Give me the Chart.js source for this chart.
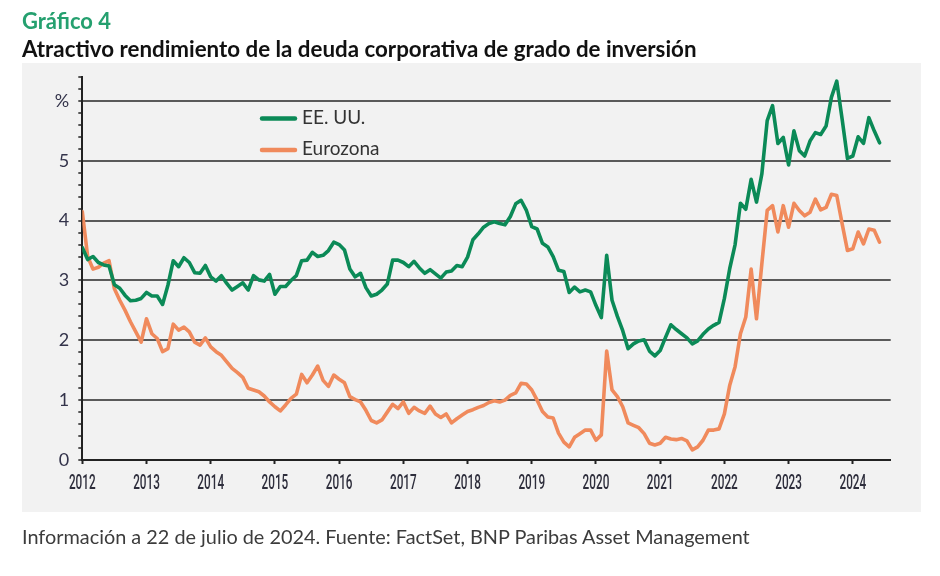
<!DOCTYPE html>
<html>
<head>
<meta charset="utf-8">
<script src="https://cdn.jsdelivr.net/npm/chart.js@4.4.1/dist/chart.umd.min.js"></script>
<style>
  html, body { margin: 0; padding: 0; background: #ffffff; }
  #wrap { position: relative; width: 940px; height: 576px; overflow: hidden; }
  #panel { position: absolute; left: 22px; top: 63px; width: 899px; height: 449px; background: #f2f2f2; }
  #c { position: absolute; left: 0; top: 0; }
  .txt { position: absolute; left: 22px; white-space: nowrap; font-family: Lato, "Open Sans", sans-serif; line-height: 1; }
  #kicker { top: 10px; font-size: 21px; font-weight: 700; color: #25a06f; }
  #title { top: 38px; font-size: 19px; font-weight: 700; color: #111; }
  #note { top: 527px; font-size: 18px; font-weight: 400; color: #3c3c3c; }
</style>
</head>
<body>
<div id="wrap">
  <div id="panel"></div>
  <canvas id="c" width="940" height="576"></canvas>
  <div class="txt" id="kicker" data-w="89">Gráfico 4</div>
  <div class="txt" id="title" data-w="675">Atractivo rendimiento de la deuda corporativa de grado de inversión</div>
  <div class="txt" id="note" data-w="728">Información a 22 de julio de 2024. Fuente: FactSet, BNP Paribas Asset Management</div>
</div>
<script>
// ---- Data (monthly, starting January 2012) ----
const startYear = 2012;
const seriesNames = ['EE. UU.', 'Eurozona'];
const us = [
  3.55, 3.35, 3.40, 3.30, 3.26, 3.24, 2.93, 2.87, 2.75, 2.66, 2.67, 2.70,
  2.80, 2.74, 2.74, 2.60, 2.92, 3.33, 3.23, 3.38, 3.30, 3.13, 3.12, 3.25,
  3.06, 2.99, 3.08, 2.95, 2.84, 2.90, 2.96, 2.84, 3.08, 3.01, 2.99, 3.10,
  2.77, 2.90, 2.90, 3.00, 3.08, 3.33, 3.34, 3.47, 3.40, 3.42, 3.50, 3.64,
  3.60, 3.51, 3.19, 3.06, 3.12, 2.88, 2.74, 2.77, 2.84, 2.94, 3.34, 3.34,
  3.30, 3.23, 3.32, 3.21, 3.12, 3.18, 3.11, 3.04, 3.14, 3.16, 3.25, 3.23,
  3.39, 3.68, 3.78, 3.89, 3.95, 3.98, 3.95, 3.93, 4.07, 4.28, 4.34, 4.17,
  3.90, 3.86, 3.62, 3.56, 3.40, 3.17, 3.15, 2.80, 2.89, 2.81, 2.84, 2.81,
  2.58, 2.38, 3.42, 2.67, 2.40, 2.16, 1.86, 1.94, 1.99, 2.01, 1.82, 1.74,
  1.83, 2.05, 2.26, 2.18, 2.11, 2.04, 1.94, 1.99, 2.10, 2.19, 2.25, 2.30,
  2.70, 3.20, 3.60, 4.29, 4.19, 4.69, 4.31, 4.78, 5.67, 5.92, 5.29, 5.39,
  4.93, 5.50, 5.17, 5.08, 5.33, 5.47, 5.44, 5.58, 6.06, 6.33, 5.70, 5.04,
  5.08, 5.40, 5.29, 5.72, 5.50, 5.30
];
const eurozone = [
  4.15, 3.40, 3.19, 3.22, 3.29, 3.33, 2.86, 2.67, 2.50, 2.31, 2.14, 1.97,
  2.36, 2.11, 2.03, 1.81, 1.86, 2.27, 2.17, 2.22, 2.14, 1.97, 1.92, 2.04,
  1.89, 1.81, 1.75, 1.64, 1.53, 1.46, 1.38, 1.20, 1.17, 1.14, 1.07, 0.97,
  0.89, 0.82, 0.92, 1.03, 1.10, 1.43, 1.29, 1.42, 1.57, 1.33, 1.23, 1.42,
  1.35, 1.29, 1.06, 1.01, 0.97, 0.83, 0.66, 0.62, 0.67, 0.80, 0.93, 0.86,
  0.97, 0.78, 0.88, 0.82, 0.78, 0.90, 0.77, 0.71, 0.77, 0.62, 0.69, 0.75,
  0.81, 0.84, 0.88, 0.91, 0.96, 0.99, 0.97, 1.00, 1.08, 1.12, 1.28, 1.27,
  1.17, 1.00, 0.81, 0.72, 0.70, 0.45, 0.30, 0.22, 0.38, 0.44, 0.50, 0.50,
  0.33, 0.42, 1.82, 1.17, 1.06, 0.89, 0.62, 0.58, 0.54, 0.44, 0.28, 0.25,
  0.28, 0.38, 0.35, 0.34, 0.36, 0.32, 0.17, 0.22, 0.33, 0.50, 0.50, 0.52,
  0.77, 1.25, 1.56, 2.11, 2.39, 3.19, 2.36, 3.28, 4.17, 4.25, 3.81, 4.25,
  3.89, 4.29, 4.17, 4.08, 4.14, 4.36, 4.18, 4.22, 4.44, 4.42, 3.95, 3.50,
  3.53, 3.81, 3.61, 3.86, 3.84, 3.64
];
const yearTicks = [2012, 2013, 2014, 2015, 2016, 2017, 2018, 2019, 2020, 2021, 2022, 2023, 2024];
const yTickLabels = ['0', '1', '2', '3', '4', '5', '%'];

// ---- fit text blocks to reference widths ----
document.querySelectorAll('.txt').forEach(el => {
  const target = parseFloat(el.dataset.w);
  const fs = parseFloat(getComputedStyle(el).fontSize);
  const w = el.getBoundingClientRect().width;
  if (w > 0) el.style.fontSize = (fs * target / w).toFixed(2) + 'px';
});

const toPoints = arr => arr.map((v, i) => ({ x: startYear + i / 12, y: v }));
const isInt = v => Math.abs(v - Math.round(v)) < 1e-6;

// inline legend built from the datasets
const legendPlugin = {
  id: 'inlineLegend',
  afterDraw(chart) {
    const ctx = chart.ctx;
    ctx.save();
    chart.data.datasets.forEach((ds, i) => {
      const y = 118.5 + i * 31.5;
      ctx.strokeStyle = ds.borderColor;
      ctx.lineWidth = 4.5;
      ctx.lineCap = 'round';
      ctx.beginPath();
      ctx.moveTo(262, y);
      ctx.lineTo(295, y);
      ctx.stroke();
      ctx.fillStyle = '#333333';
      ctx.font = '19px Lato, "Open Sans", sans-serif';
      ctx.textBaseline = 'middle';
      ctx.textAlign = 'left';
      ctx.fillText(ds.label, 302, y - 1);
    });
    ctx.restore();
  }
};

// condensed year labels placed on the x scale's own ticks
const condensedXLabels = {
  id: 'condensedXLabels',
  afterDraw(chart) {
    const sx = chart.scales.x;
    const ctx = chart.ctx;
    ctx.save();
    ctx.fillStyle = '#2e2e3c';
    ctx.font = '500 21px Roboto, "DejaVu Sans", sans-serif';
    ctx.textAlign = 'center';
    ctx.textBaseline = 'middle';
    sx.ticks.forEach(t => {
      const px = sx.getPixelForValue(t.value);
      ctx.save();
      ctx.translate(px, sx.top + 24);
      ctx.scale(0.56, 1);
      ctx.fillText(String(t.value), 0, 0);
      ctx.restore();
    });
    ctx.restore();
  }
};

new Chart(document.getElementById('c'), {
  type: 'line',
  data: {
    datasets: [
      { label: seriesNames[0], data: toPoints(us), borderColor: '#0b8a57', borderWidth: 3.6,
        pointRadius: 0, tension: 0, borderJoinStyle: 'round', borderCapStyle: 'round', fill: false },
      { label: seriesNames[1], data: toPoints(eurozone), borderColor: '#f08a5c', borderWidth: 3.6,
        pointRadius: 0, tension: 0, borderJoinStyle: 'round', borderCapStyle: 'round', fill: false }
    ]
  },
  options: {
    responsive: false,
    animation: false,
    devicePixelRatio: 1,
    layout: { padding: { left: 0, right: 49.3, top: 77, bottom: 80 } },
    plugins: { legend: { display: false }, tooltip: { enabled: false }, title: { display: false } },
    scales: {
      x: {
        type: 'linear',
        min: 2012,
        max: 2024.59,
        afterBuildTicks: s => { s.ticks = yearTicks.map(v => ({ value: v })); },
        afterFit: s => { s.height = 36; },
        ticks: { display: false, autoSkip: false, maxRotation: 0 },
        grid: { drawOnChartArea: false, drawTicks: true, tickLength: 4, tickColor: '#222', tickWidth: 2 },
        border: { display: true, color: '#222', width: 2 }
      },
      y: {
        min: 0,
        max: 6.4,
        afterFit: s => { s.width = 82.3; },
        ticks: {
          stepSize: 0.2, autoSkip: false, padding: 9,
          callback: v => isInt(v) ? yTickLabels[Math.round(v)] : '',
          font: { family: 'Lato, "Open Sans", sans-serif', size: 18 },
          color: '#33334a'
        },
        grid: {
          drawTicks: true, tickLength: 4,
          color: c => (isInt(c.tick.value) && c.tick.value > 0.5) ? '#5a5a5a' : 'rgba(0,0,0,0)',
          lineWidth: 2,
          tickColor: '#222', tickWidth: 1.5
        },
        border: { display: true, color: '#222', width: 2 }
      }
    }
  },
  plugins: [legendPlugin, condensedXLabels]
});
</script>
</body>
</html>
